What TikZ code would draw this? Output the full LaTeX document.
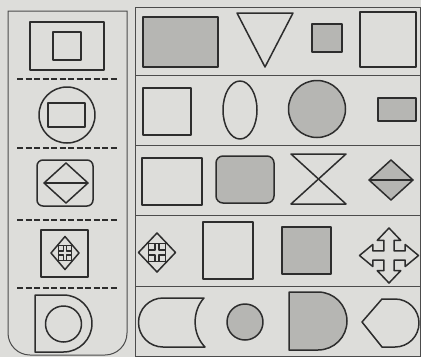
\documentclass[tikz,border=0pt]{standalone}
\definecolor{paper}{RGB}{221,221,218}
\definecolor{shade}{RGB}{182,182,179}
\definecolor{ink}{RGB}{45,45,45}
\newcommand\mvicon[4]{%
  \begin{scope}[shift={(#1,#2)},xscale=#3,yscale=#4]
    \draw[ln] (0,-1) -- (1,0) -- (0,1) -- (-1,0) -- cycle;
    \draw[ln] (-0.45,-0.45) -- (0.45,-0.45) -- (0.45,0.45) -- (-0.45,0.45) -- cycle;
    \foreach \a/\b in {1/1,1/-1,-1/1,-1/-1}
      \draw[ln,fill=paper] (0.12*\a,0.12*\b) rectangle (0.45*\a,0.45*\b);
  \end{scope}}
\begin{document}
\begin{tikzpicture}[x=1pt,y=-1pt,
  ln/.style={draw=ink,line width=1.5pt,line join=round},
  sh/.style={ln,fill=shade},
  frm/.style={draw=ink!85,line width=1pt},
  sep/.style={draw=ink,line width=1.6pt,dash pattern=on 6pt off 2.5pt}]
\fill[paper] (0,0) rectangle (421,357);
\useasboundingbox (0,0) rectangle (421,357);
% left panel frame
\draw[frm] (8,11) -- (8,333) arc[start angle=180,end angle=90,radius=22]
  -- (105,355) arc[start angle=90,end angle=0,radius=22] -- (127,11) -- cycle;
\foreach \y in {79,148,220,288} \draw[sep] (17,\y) -- (117,\y);
% left shapes
\draw[ln] (30,22) rectangle (104,70);
\draw[ln] (53,32) rectangle (81,60);
\draw[ln] (67,115) circle[radius=28];
\draw[ln] (48,103) rectangle (85,127);
\draw[ln,rounded corners=6pt] (37,160) rectangle (93,206);
\draw[ln] (66,163) -- (88,183) -- (66,203) -- (44,183) -- cycle;
\draw[ln] (44,183) -- (88,183);
\draw[ln] (41,230) rectangle (88,277);
\mvicon{65}{253}{14}{16.5}
\draw[ln] (35,295) -- (63.5,295) arc[start angle=-90,end angle=90,radius=28.5] -- (35,352) -- cycle;
\draw[ln] (63.5,324) circle[radius=18];
% right panel frame
\draw[frm] (135,7) rectangle (420,356);
\foreach \y in {75,145,215,286} \draw[frm] (135,\y) -- (420,\y);
% row 1
\draw[sh] (143,17) rectangle (218,67);
\draw[ln] (237,13) -- (293,13) -- (265,67) -- cycle;
\draw[sh] (312,24) rectangle (342,52);
\draw[ln] (360,12) rectangle (416,67);
% row 2
\draw[ln] (143,88) rectangle (191,135);
\draw[ln] (240,110) ellipse[x radius=17,y radius=29];
\draw[sh] (317,109) circle[radius=28.5];
\draw[sh] (378,98) rectangle (416,121);
% row 3
\draw[ln] (142,158) rectangle (202,205);
\draw[sh,rounded corners=7pt] (216,156) rectangle (274,203);
\draw[ln] (291,154) -- (346,154) -- (291,204) -- (346,204) -- cycle;
\draw[sh] (391,160) -- (413,180) -- (391,200) -- (369,180) -- cycle;
\draw[ln] (369,180) -- (413,180);
% row 4
\mvicon{157}{252.5}{18.5}{19.5}
\draw[ln] (203,222) rectangle (253,279);
\draw[sh] (282,227) rectangle (331,274);
\begin{scope}[shift={(389,255.5)},xscale=29.5,yscale=27.5]
\draw[ln] (0,-1) -- (0.4,-0.55) -- (0.17,-0.55) -- (0.17,-0.17) -- (0.55,-0.17) -- (0.55,-0.4)
 -- (1,0) -- (0.55,0.4) -- (0.55,0.17) -- (0.17,0.17) -- (0.17,0.55) -- (0.4,0.55)
 -- (0,1) -- (-0.4,0.55) -- (-0.17,0.55) -- (-0.17,0.17) -- (-0.55,0.17) -- (-0.55,0.4)
 -- (-1,0) -- (-0.55,-0.4) -- (-0.55,-0.17) -- (-0.17,-0.17) -- (-0.17,-0.55) -- (-0.4,-0.55) -- cycle;
\end{scope}
% row 5
\draw[ln] (163,298) -- (204,298) .. controls (192,311) and (192,334) .. (205,347)
  -- (163,347) arc[start angle=90,end angle=270,radius=24.5] -- cycle;
\draw[sh] (245,322) circle[radius=18];
\draw[sh] (289,292) -- (318,292) arc[start angle=-90,end angle=90,radius=29] -- (289,350) -- cycle;
\draw[ln] (362,322) -- (382,299) -- (395,299) arc[start angle=-90,end angle=90,radius=24] -- (382,347) -- cycle;
\end{tikzpicture}
\end{document}
